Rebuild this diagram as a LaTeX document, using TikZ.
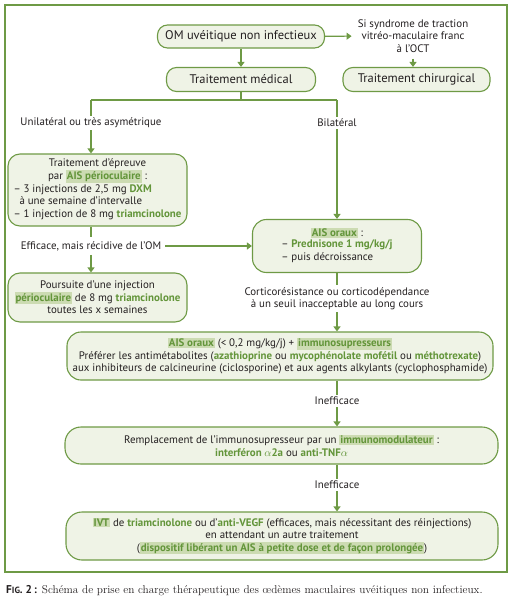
\documentclass[tikz,border=0pt]{standalone}
\usepackage{fontspec}
\newfontfamily\diagfont{PT Sans}
\usetikzlibrary{arrows.meta}
\definecolor{boxgreen}{HTML}{6E9A45}
\definecolor{boxfill}{HTML}{EFF3E6}
\definecolor{hlgreen}{HTML}{CCDBB2}
\definecolor{txtgreen}{HTML}{63953A}
\definecolor{txtgray}{HTML}{231F20}
\newcommand{\gtx}[1]{\textbf{\textcolor{txtgreen}{#1}}}
\newcommand{\hlt}[1]{{\setlength{\fboxsep}{1pt}\colorbox{hlgreen}{\gtx{#1}}}}
\tikzset{
  stage/.style={draw=boxgreen, fill=boxfill, line width=1.1pt, rounded corners=10pt, align=center, inner sep=2pt},
  bigstage/.style={stage, font=\diagfont\fontsize{12.5}{14}\selectfont},
  lbl/.style={align=center, inner sep=2pt},
  link/.style={draw=boxgreen, line width=1.1pt},
  arr/.style={link, -{Triangle[width=7pt,length=5pt]}},
}
\begin{document}
\begin{tikzpicture}[x=1pt,y=-1pt,font=\diagfont\fontsize{10.9}{12.5}\selectfont,text=txtgray]
\useasboundingbox (0,0) rectangle (513,613);
\draw[boxgreen, line width=1.3pt] (5,5) rectangle (507,572);

\node[bigstage, minimum width=167pt, minimum height=23pt] (om) at (241,36.5) {OM uvéitique non infectieux};
\node[lbl, inner sep=6pt] (octlbl) at (413,36) {Si syndrome de traction\\vitréo-maculaire franc\\à l’OCT};
\node[bigstage, minimum width=149pt, minimum height=24pt] (med) at (241,79.5) {Traitement médical};
\node[bigstage, minimum width=147pt, minimum height=24pt] (chir) at (416.5,79.5) {Traitement chirurgical};
\coordinate (split) at (241,100);
\node[lbl] (uni) at (91,123) {Unilatéral ou très asymétrique};
\node[lbl] (bil) at (337,123) {Bilatéral};
\node[stage, minimum width=179pt, minimum height=72pt, rounded corners=12pt] (epreuve) at (97.5,190) {Traitement d’épreuve\\par \hlt{AIS périoculaire} :\\
  \begin{tabular}{@{}l@{}}– 3 injections de 2,5 mg \gtx{DXM}\\ \hspace{0.55em}à une semaine d’intervalle\\ – 1 injection de 8 mg \gtx{triamcinolone}\end{tabular}};
\node[lbl, inner sep=4pt] (eff) at (91,246) {Efficace, mais récidive de l’OM};
\node[stage, minimum width=169pt, minimum height=53pt, rounded corners=14pt] (oraux) at (337,246) {\hlt{AIS oraux} :\\
  \begin{tabular}{@{}l@{}}– \gtx{Prednisone 1 mg/kg/j}\\ – puis décroissance\end{tabular}};
\node[stage, minimum width=179pt, minimum height=49pt, rounded corners=12pt] (poursuite) at (97.5,297.5) {Poursuite d’une injection\\\hlt{périoculaire} de 8 mg \gtx{triamcinolone}\\toutes les x semaines};
\node[lbl] (cortico) at (337,298.5) {Corticorésistance ou corticodépendance\\à un seuil inacceptable au long cours};
\node[stage, minimum width=426pt, minimum height=48pt, rounded corners=14pt] (immuno) at (280,356) {\hlt{AIS oraux} (< 0,2 mg/kg/j) + \hlt{immunosupresseurs}\\
  Préférer les antimétabolites (\gtx{azathioprine} ou \gtx{mycophénolate mofétil} ou \gtx{méthotrexate})\\
  aux inhibiteurs de calcineurine (ciclosporine) et aux agents alkylants (cyclophosphamide)};
\foreach \n/\y in {ineffA/401,ineffB/485}
  \node[lbl] (\n) at (337,\y) {Inefficace};
\node[stage, minimum width=433pt, minimum height=37pt, rounded corners=16pt] (rempl) at (281.5,445.5) {Remplacement de l’immunosupresseur par un \hlt{immunomodulateur} :\\
  \gtx{interféron $\alpha$2a} ou \gtx{anti-TNF$\alpha$}};
\node[stage, minimum width=432pt, minimum height=48pt, rounded corners=16pt] (ivt) at (282,536) {\hlt{IVT} de \gtx{triamcinolone} ou d’\gtx{anti-VEGF} (efficaces, mais nécessitant des réinjections)\\
  en attendant un autre traitement\\
  (\hlt{dispositif libérant un AIS à petite dose et de façon prolongée})};
\node[anchor=west, inner sep=0pt, font=\rmfamily\fontsize{11.3}{13}\selectfont] (caption) at (6,591) {{\diagfont\bfseries F{\fontsize{9}{10}\selectfont IG}. 2\,:} Schéma de prise en charge thérapeutique des œdèmes maculaires uvéitiques non infectieux.};

\draw[arr] (om) -- (octlbl);
\draw[arr] (octlbl.south) -- (octlbl.south |- chir.north);
\draw[arr] (om) -- (med);
\draw[link] (med.south) -- (split) (uni |- split) -- (bil |- split);
\draw[link] (uni |- split) -- (uni);
\draw[link] (bil |- split) -- (bil);
\draw[arr] (uni) -- (uni |- epreuve.north);
\draw[arr] (bil) -- (oraux);
\draw[link] (eff |- epreuve.south) -- (eff);
\draw[arr] (eff) -- (eff |- poursuite.north);
\draw[arr] (eff) -- (oraux);
\draw[link] (oraux) -- (cortico);
\draw[arr] (cortico) -- (cortico |- immuno.north);
\draw[link] (ineffA |- immuno.south) -- (ineffA);
\draw[arr] (ineffA) -- (ineffA |- rempl.north);
\draw[link] (ineffB |- rempl.south) -- (ineffB);
\draw[arr] (ineffB) -- (ineffB |- ivt.north);
\end{tikzpicture}
\end{document}
